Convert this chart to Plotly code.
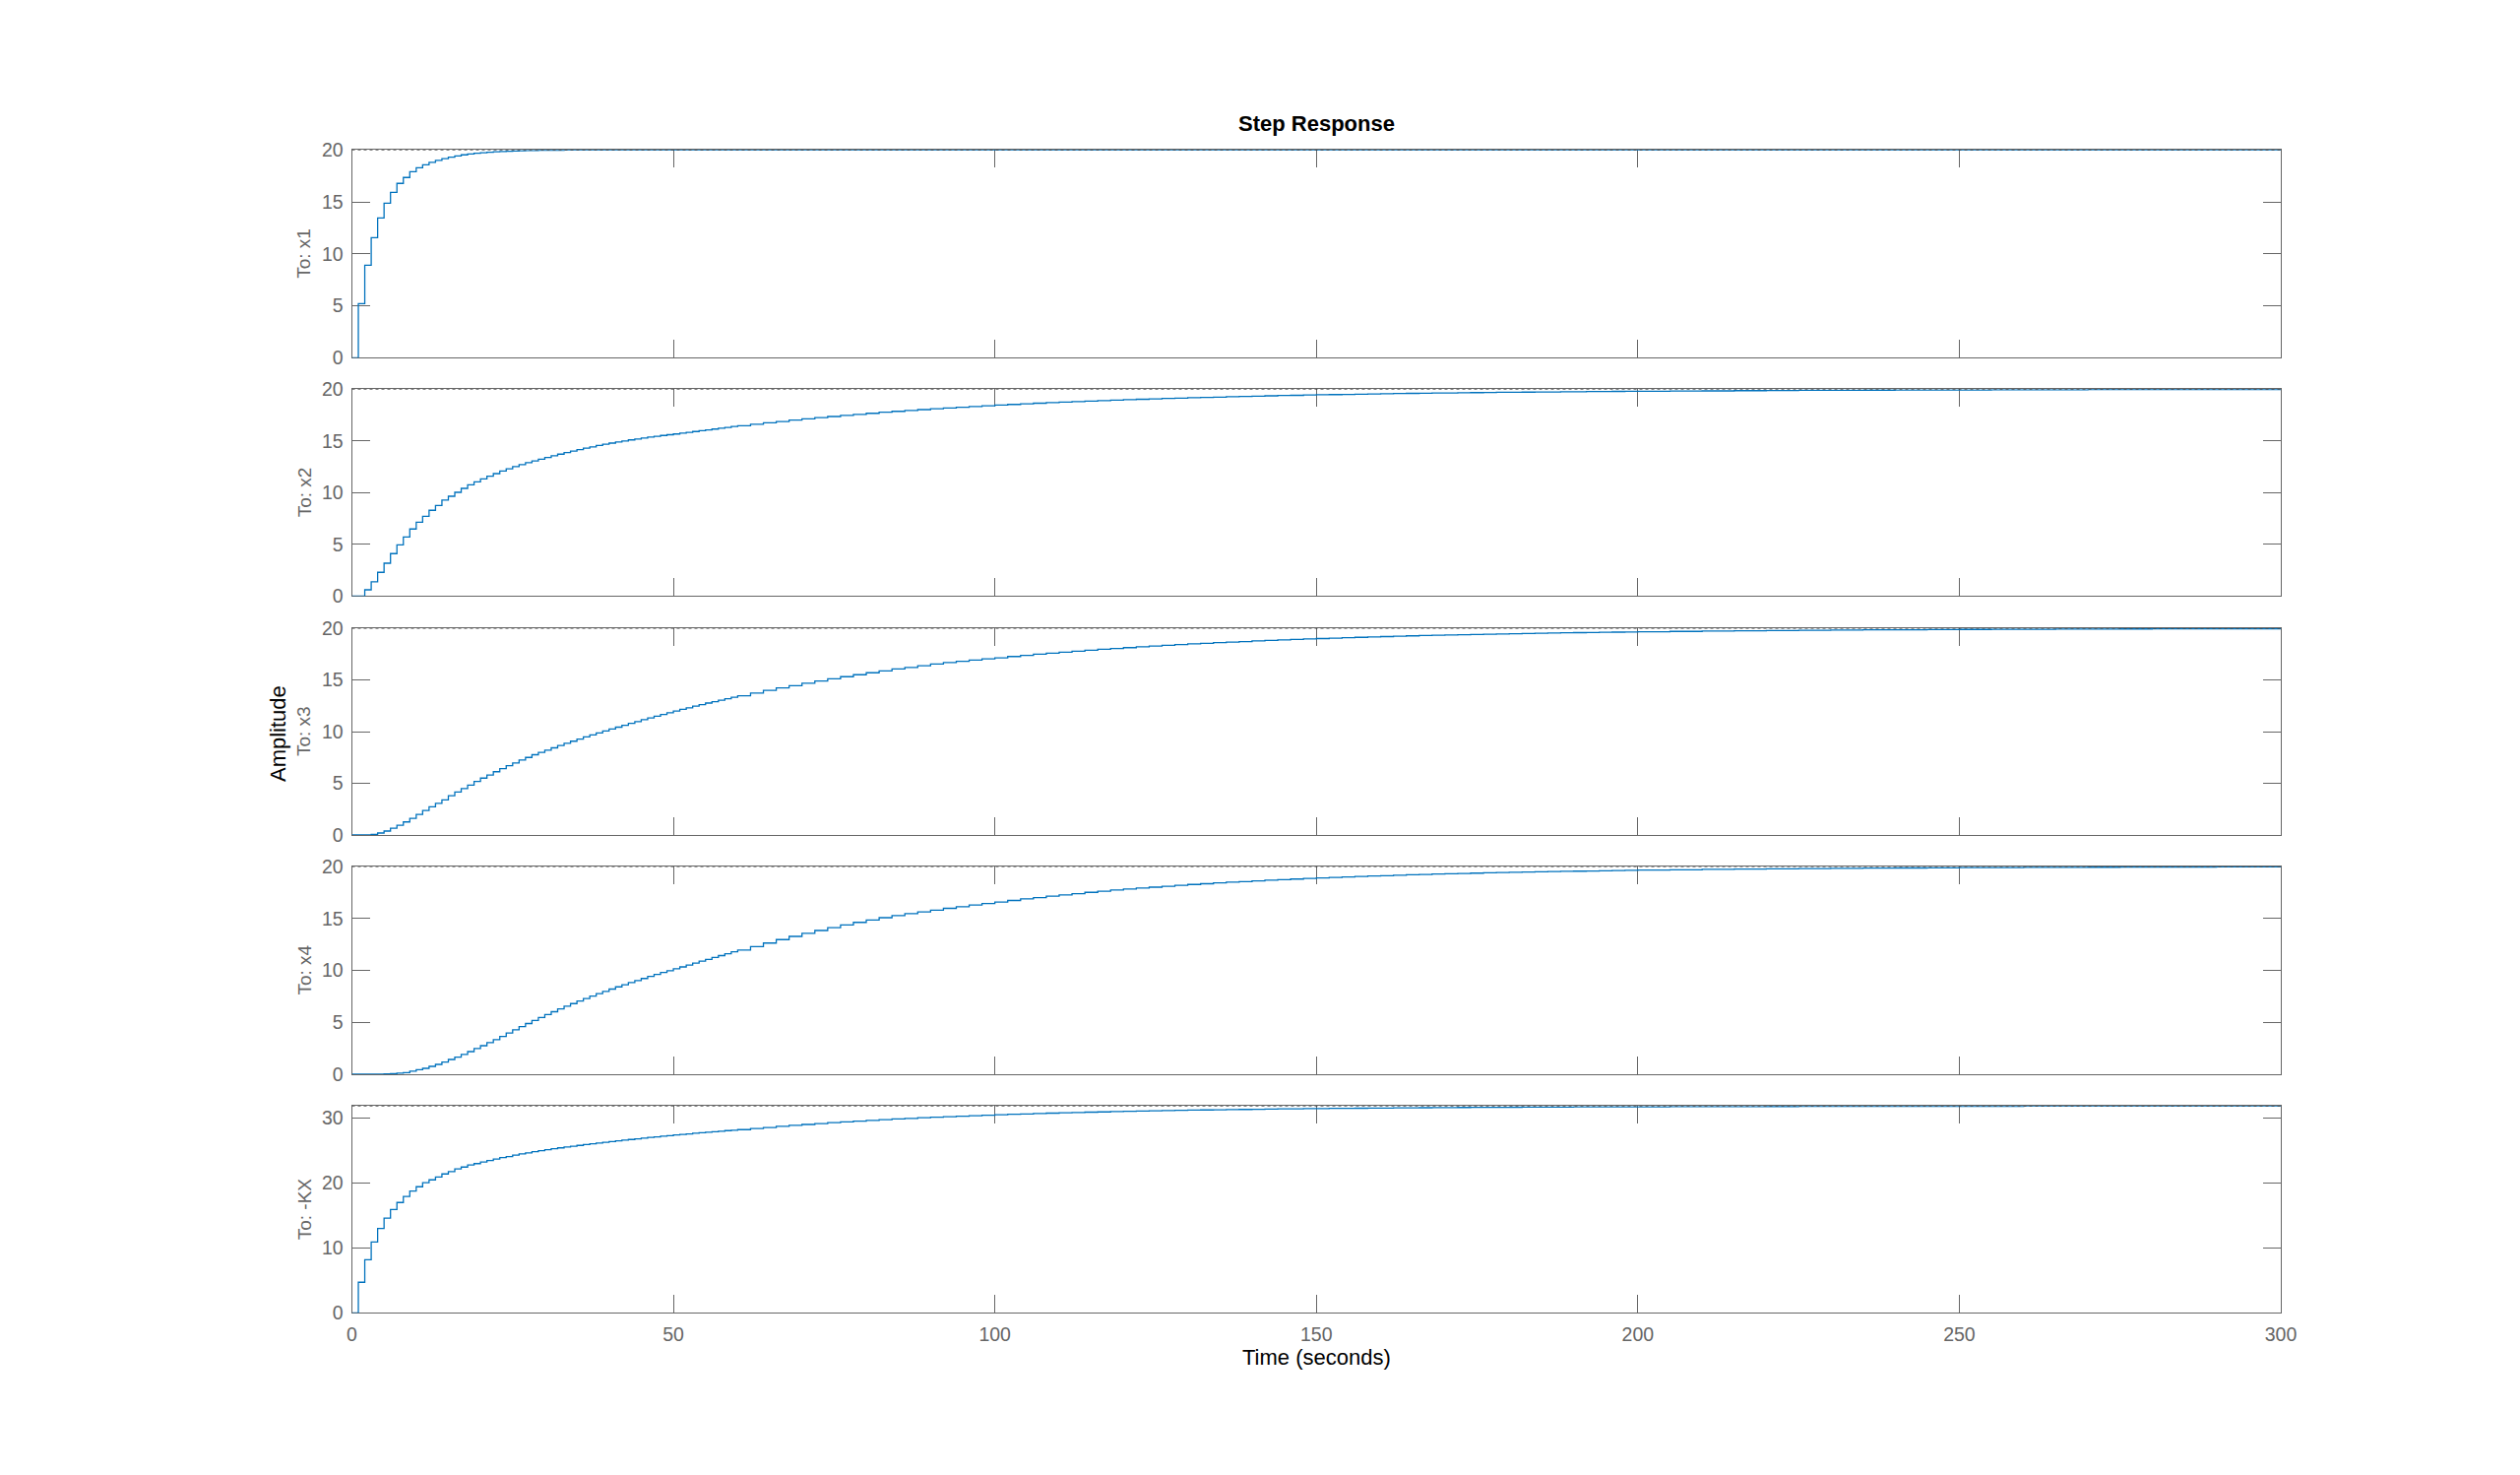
import plotly.graph_objects as go

# ---------------- data ----------------
# sample instants (s): 1 s up to 60, 2 s up to 200, 5 s up to 300
t_a = list(range(0, 61))
t_b = list(range(62, 101, 2))
t_c = list(range(102, 201, 2))
t_d = list(range(205, 301, 5))
t = t_a + t_b + t_c + t_d

x1_a = [0, 5.21, 8.91, 11.56, 13.46, 14.88, 15.92, 16.78, 17.35, 17.91,
        18.29, 18.58, 18.80, 19.00, 19.17, 19.31, 19.43, 19.53, 19.61, 19.68,
        19.73, 19.78, 19.82, 19.85, 19.88, 19.90, 19.92, 19.94, 19.95, 19.96,
        19.97, 19.98, 19.98, 19.99, 19.99, 20, 20, 20, 20, 20,
        20, 20, 20, 20, 20, 20, 20, 20, 20, 20,
        20, 20, 20, 20, 20, 20, 20, 20, 20, 20, 20]
x1_b = [20, 20, 20, 20, 20, 20, 20, 20, 20, 20,
        20, 20, 20, 20, 20, 20, 20, 20, 20, 20]
x1_c = [20, 20, 20, 20, 20, 20, 20, 20, 20, 20,
        20, 20, 20, 20, 20, 20, 20, 20, 20, 20,
        20, 20, 20, 20, 20, 20, 20, 20, 20, 20,
        20, 20, 20, 20, 20, 20, 20, 20, 20, 20,
        20, 20, 20, 20, 20, 20, 20, 20, 20, 20]
x1_d = [20, 20, 20, 20, 20, 20, 20, 20, 20, 20,
        20, 20, 20, 20, 20, 20, 20, 20, 20, 20]

x2_a = [0, 0, 0.60, 1.37, 2.29, 3.17, 4.10, 4.95, 5.71, 6.48,
        7.14, 7.71, 8.29, 8.76, 9.27, 9.65, 10.03, 10.41, 10.76, 11.05,
        11.33, 11.59, 11.84, 12.08, 12.30, 12.51, 12.70, 12.89, 13.06, 13.23,
        13.40, 13.56, 13.72, 13.87, 14.02, 14.16, 14.30, 14.43, 14.56, 14.68,
        14.79, 14.90, 15.00, 15.10, 15.19, 15.28, 15.37, 15.45, 15.53, 15.60,
        15.67, 15.75, 15.83, 15.91, 15.99, 16.07, 16.15, 16.23, 16.31, 16.39, 16.47]
x2_b = [16.61, 16.75, 16.88, 17.01, 17.13, 17.25, 17.36, 17.47, 17.57, 17.67,
        17.77, 17.86, 17.95, 18.03, 18.11, 18.19, 18.26, 18.33, 18.40, 18.47]
x2_c = [18.53, 18.59, 18.65, 18.70, 18.75, 18.80, 18.85, 18.90, 18.94, 18.99,
        19.03, 19.07, 19.11, 19.14, 19.18, 19.21, 19.24, 19.27, 19.30, 19.33,
        19.36, 19.39, 19.41, 19.44, 19.46, 19.48, 19.50, 19.52, 19.54, 19.56,
        19.58, 19.60, 19.61, 19.63, 19.64, 19.66, 19.67, 19.68, 19.70, 19.71,
        19.72, 19.73, 19.74, 19.75, 19.76, 19.77, 19.78, 19.79, 19.80, 19.81]
x2_d = [19.83, 19.84, 19.86, 19.87, 19.89, 19.90, 19.91, 19.92, 19.93, 19.93,
        19.94, 19.95, 19.95, 19.96, 19.96, 19.96, 19.97, 19.97, 19.97, 19.98]

x3_a = [0, 0, 0, 0.06, 0.19, 0.38, 0.66, 0.95, 1.26, 1.61,
        1.99, 2.37, 2.72, 3.06, 3.40, 3.79, 4.15, 4.49, 4.83, 5.18,
        5.50, 5.80, 6.12, 6.41, 6.70, 6.97, 7.25, 7.50, 7.76, 7.99,
        8.21, 8.43, 8.65, 8.86, 9.07, 9.28, 9.48, 9.67, 9.87, 10.06,
        10.25, 10.43, 10.61, 10.80, 10.97, 11.15, 11.32, 11.49, 11.66, 11.83,
        11.99, 12.15, 12.30, 12.46, 12.61, 12.76, 12.90, 13.04, 13.18, 13.32, 13.46]
x3_b = [13.72, 13.98, 14.22, 14.45, 14.68, 14.90, 15.11, 15.31, 15.50, 15.69,
        15.87, 16.05, 16.21, 16.37, 16.53, 16.68, 16.80, 16.92, 17.03, 17.14]
x3_c = [17.26, 17.37, 17.48, 17.58, 17.68, 17.78, 17.87, 17.96, 18.04, 18.12,
        18.20, 18.27, 18.35, 18.41, 18.48, 18.54, 18.60, 18.66, 18.71, 18.77,
        18.82, 18.87, 18.91, 18.96, 19.00, 19.04, 19.08, 19.12, 19.16, 19.19,
        19.22, 19.26, 19.29, 19.32, 19.34, 19.37, 19.40, 19.42, 19.45, 19.47,
        19.49, 19.51, 19.53, 19.55, 19.57, 19.59, 19.60, 19.62, 19.64, 19.65]
x3_d = [19.69, 19.72, 19.75, 19.77, 19.80, 19.82, 19.84, 19.85, 19.87, 19.88,
        19.89, 19.90, 19.91, 19.92, 19.93, 19.94, 19.94, 19.95, 19.95, 19.96]

x4_a = [0, 0, 0, 0, 0.02, 0.04, 0.06, 0.10, 0.16, 0.30,
        0.44, 0.57, 0.76, 0.95, 1.17, 1.42, 1.65, 1.90, 2.18, 2.47,
        2.75, 3.04, 3.32, 3.64, 3.96, 4.27, 4.58, 4.88, 5.18, 5.47,
        5.75, 6.02, 6.29, 6.55, 6.80, 7.05, 7.29, 7.53, 7.76, 7.98,
        8.20, 8.41, 8.62, 8.82, 9.02, 9.22, 9.41, 9.60, 9.79, 9.97,
        10.15, 10.33, 10.51, 10.70, 10.88, 11.06, 11.24, 11.42, 11.60, 11.78, 11.95]
x4_b = [12.29, 12.63, 12.96, 13.27, 13.56, 13.84, 14.11, 14.37, 14.62, 14.85,
        15.07, 15.27, 15.46, 15.63, 15.80, 15.97, 16.13, 16.29, 16.44, 16.58]
x4_c = [16.73, 16.88, 17.01, 17.15, 17.27, 17.39, 17.51, 17.62, 17.73, 17.83,
        17.92, 18.01, 18.10, 18.19, 18.27, 18.34, 18.42, 18.49, 18.55, 18.62,
        18.68, 18.74, 18.79, 18.85, 18.90, 18.95, 18.99, 19.04, 19.08, 19.12,
        19.16, 19.20, 19.23, 19.27, 19.30, 19.33, 19.36, 19.39, 19.42, 19.44,
        19.47, 19.49, 19.51, 19.53, 19.55, 19.57, 19.59, 19.61, 19.63, 19.65]
x4_d = [19.68, 19.72, 19.75, 19.78, 19.80, 19.82, 19.84, 19.86, 19.87, 19.89,
        19.90, 19.91, 19.92, 19.93, 19.94, 19.95, 19.95, 19.96, 19.96, 19.97]

kx_a = [0, 4.70, 8.18, 10.90, 12.98, 14.55, 15.90, 16.97, 17.88, 18.74,
        19.39, 20.00, 20.45, 20.90, 21.36, 21.72, 22.12, 22.42, 22.73, 22.95,
        23.18, 23.43, 23.64, 23.89, 24.04, 24.24, 24.44, 24.60, 24.80, 24.95,
        25.10, 25.24, 25.37, 25.50, 25.63, 25.75, 25.87, 25.99, 26.11, 26.22,
        26.34, 26.45, 26.56, 26.66, 26.76, 26.87, 26.97, 27.06, 27.16, 27.25,
        27.35, 27.44, 27.52, 27.61, 27.69, 27.78, 27.86, 27.94, 28.02, 28.09, 28.17]
kx_b = [28.34, 28.51, 28.67, 28.83, 28.97, 29.11, 29.24, 29.37, 29.48, 29.60,
        29.70, 29.81, 29.90, 30.00, 30.08, 30.17, 30.25, 30.32, 30.40, 30.46]
kx_c = [30.53, 30.59, 30.65, 30.71, 30.76, 30.81, 30.86, 30.90, 30.95, 30.99,
        31.03, 31.07, 31.10, 31.14, 31.17, 31.20, 31.23, 31.26, 31.28, 31.31,
        31.33, 31.36, 31.38, 31.40, 31.42, 31.44, 31.45, 31.47, 31.49, 31.50,
        31.52, 31.53, 31.54, 31.56, 31.57, 31.58, 31.59, 31.60, 31.61, 31.62,
        31.63, 31.64, 31.64, 31.65, 31.66, 31.67, 31.67, 31.68, 31.68, 31.69]
kx_d = [31.70, 31.71, 31.72, 31.73, 31.74, 31.75, 31.75, 31.76, 31.76, 31.77,
        31.77, 31.78, 31.78, 31.78, 31.78, 31.79, 31.79, 31.79, 31.79, 31.79]

output_names = ["To: x1", "To: x2", "To: x3", "To: x4", "To: -KX"]
responses = [x1_a + x1_b + x1_c + x1_d,
             x2_a + x2_b + x2_c + x2_d,
             x3_a + x3_b + x3_c + x3_d,
             x4_a + x4_b + x4_c + x4_d,
             kx_a + kx_b + kx_c + kx_d]
steady_state = [20, 20, 20, 20, 31.8]
y_max = [20, 20, 20, 20, 31.8]
y_ticks = [[0, 5, 10, 15, 20]] * 4 + [[0, 10, 20, 30]]
x_ticks = [0, 50, 100, 150, 200, 250, 300]
x_range = [0, 300]

# ---------------- layout geometry ----------------
W, H = 2560, 1498
x_dom = [357.5 / W, 2317 / W]
panels_px = [(152.3, 363.3), (395.3, 605.3), (638, 848), (880, 1091), (1123.3, 1333.3)]
y_doms = [[1 - b / H, 1 - tp / H] for tp, b in panels_px]

FONT = "Liberation Sans, Arial, Helvetica, sans-serif"
AX = "#666666"
BLUE = "#0072BD"
TICK_SIZE = 19.5

fig = go.Figure()
layout = dict(
    width=W, height=H, autosize=False,
    margin=dict(l=0, r=0, t=0, b=0, pad=0),
    paper_bgcolor="white", plot_bgcolor="white",
    showlegend=False,
    font=dict(family=FONT, color=AX, size=TICK_SIZE),
)
annotations = []

for i in range(5):
    sx = "" if i == 0 else str(i + 1)
    xa, ya = "x" + sx, "y" + sx
    fig.add_trace(go.Scatter(
        x=t, y=responses[i], mode="lines",
        line=dict(color=BLUE, width=1.3, shape="hv"),
        xaxis=xa, yaxis=ya, hoverinfo="skip"))
    fig.add_trace(go.Scatter(
        x=[t[0], t[-1]], y=[steady_state[i], steady_state[i]], mode="lines",
        line=dict(color="#3a3a3a", width=1, dash="dot"),
        xaxis=xa, yaxis=ya, hoverinfo="skip"))

    common = dict(
        showgrid=False, zeroline=False, automargin=False,
        showline=True, linecolor=AX, linewidth=1, mirror="ticks",
        ticks="inside", ticklen=18, tickwidth=1, tickcolor=AX,
        tickfont=dict(family=FONT, size=TICK_SIZE, color=AX),
        layer="below traces",
    )
    layout["xaxis" + sx] = dict(
        common, domain=x_dom, range=x_range, anchor=ya,
        tickmode="array", tickvals=x_ticks,
        showticklabels=(i == 4), ticklabelstandoff=4,
    )
    layout["yaxis" + sx] = dict(
        common, domain=y_doms[i], range=[0, y_max[i]], anchor=xa,
        tickmode="array", tickvals=y_ticks[i], ticklabelstandoff=4,
    )
    yc = (y_doms[i][0] + y_doms[i][1]) / 2
    annotations.append(dict(
        text=output_names[i], x=309 / W, y=yc, xref="paper", yref="paper",
        xanchor="center", yanchor="middle", textangle=-90, showarrow=False,
        font=dict(family=FONT, size=19, color=AX)))

annotations += [
    dict(text="<b>Step Response</b>", x=1337 / W, y=1 - 125 / H, xref="paper", yref="paper",
         xanchor="center", yanchor="middle", showarrow=False,
         font=dict(family=FONT, size=22, color="black")),
    dict(text="Time (seconds)", x=1337 / W, y=1 - 1378 / H, xref="paper", yref="paper",
         xanchor="center", yanchor="middle", showarrow=False,
         font=dict(family=FONT, size=22, color="black")),
    dict(text="Amplitude", x=282 / W, y=1 - 745 / H, xref="paper", yref="paper",
         xanchor="center", yanchor="middle", textangle=-90, showarrow=False,
         font=dict(family=FONT, size=22, color="black")),
]
layout["annotations"] = annotations
fig.update_layout(**layout)

fig.write_html("out.html", config={"displayModeBar": False},
               post_script="document.body.style.margin='0px';")
